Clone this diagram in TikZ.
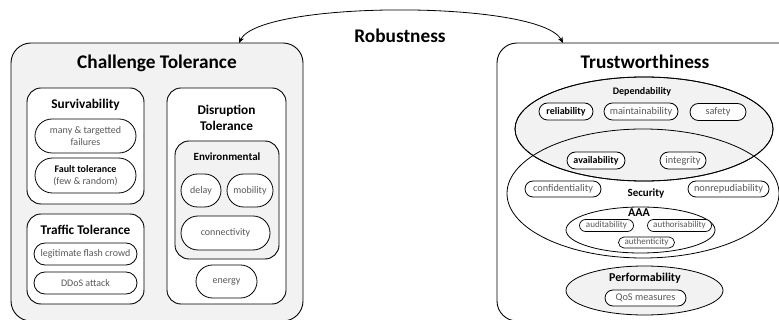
\documentclass[tikz,border=0pt]{standalone}
\usepackage{fontspec}
\setmainfont{Carlito}
\usetikzlibrary{shapes.misc,shapes.geometric,arrows.meta}
\definecolor{boxfill}{rgb}{0.949,0.949,0.949}
\definecolor{leafgray}{rgb}{0.35,0.35,0.35}
\tikzset{
  group/.style={draw, line width=0.9pt, rounded corners=14pt, fill=white, inner sep=0pt},
  pill/.style={draw, rounded rectangle, line width=0.8pt, fill=white, inner sep=1pt, text=leafgray, align=center},
  oval/.style={draw, ellipse, line width=0.8pt, inner sep=0pt},
  bigtitle/.style={font=\fontsize{19.3}{22}\selectfont\bfseries},
  subtitle/.style={font=\fontsize{13.3}{16}\selectfont\bfseries, align=center},
  smalltitle/.style={font=\fontsize{11}{13}\selectfont\bfseries},
  leaf/.style={pill, font=\fontsize{10}{11.5}\selectfont},
  tleaf/.style={pill, font=\fontsize{10.3}{12}\selectfont},
  aleaf/.style={pill, line width=0.7pt, inner sep=0.5pt, font=\fontsize{9}{10}\selectfont},
}
\begin{document}
\begin{tikzpicture}[x=1pt,y=-1pt]
\useasboundingbox (0,0) rectangle (779,320);
\clip (0,0) rectangle (779,320);

% Drawing box Challenge Tolerance
\node[group, rounded corners=20pt, fill=boxfill, minimum width=292, minimum height=278] (chal) at (157,182) {};
\node[bigtitle] (chalT) at (157,63) {Challenge Tolerance};

% Survivability
\node[group, minimum width=117, minimum height=116] (surv) at (85.5,146) {};
\node[subtitle] (survT) at (85.5,105) {Survivability};
\node[leaf, minimum width=103, minimum height=34] (many) at (85.5,136) {many \& targetted\\failures};
\node[leaf, minimum width=103, minimum height=35] (fault) at (85.5,175.5) {\textcolor{black}{\bfseries Fault tolerance}\\(few \& random)};

% Traffic Tolerance
\node[group, minimum width=117, minimum height=90] (traf) at (85.5,259) {};
\node[subtitle] (trafT) at (85.5,230) {Traffic Tolerance};
\node[leaf, minimum width=105, minimum height=22] (legit) at (85.5,254) {legitimate flash crowd};
\node[leaf, minimum width=105, minimum height=22] (ddos) at (85.5,283) {DDoS attack};

% Disruption Tolerance
\node[group, minimum width=119, minimum height=216] (disr) at (226.5,196) {};
\node[subtitle] (disrT) at (226.5,118) {Disruption\\Tolerance};
\node[group, fill=boxfill, minimum width=104, minimum height=118] (env) at (227,200) {};
\node[smalltitle] (envT) at (227,157) {Environmental};
\node[leaf, minimum width=42, minimum height=33] (delay) at (201,190.5) {delay};
\node[leaf, minimum width=48, minimum height=33] (mob) at (250,190.5) {mobility};
\node[leaf, minimum width=91, minimum height=34] (conn) at (225.5,233) {connectivity};
\node[leaf, minimum width=63, minimum height=33] (energy) at (226.5,281.5) {energy};

% Drawing box Trustworthiness
\node[group, rounded corners=20pt, minimum width=303, minimum height=278] (trust) at (648.5,182) {};
\node[bigtitle] (trustT) at (645,62) {Trustworthiness};

% Dependability and Security overlap
\node[oval, fill=boxfill, minimum width=258, minimum height=104] (dep) at (644,129) {};
\node[oval, minimum width=272, minimum height=129] (sec) at (643,193.5) {};
\node[oval, minimum width=258, minimum height=104] at (dep) {};
\node[smalltitle, font=\fontsize{10}{12}\selectfont\bfseries] (depT) at (642,92) {Dependability};
\node[tleaf, text=black, font=\fontsize{10}{12}\selectfont\bfseries, minimum width=56, minimum height=17] (rel) at (566,111.5) {reliability};
\node[tleaf, minimum width=76, minimum height=17] (maint) at (641,111.5) {maintainability};
\node[tleaf, minimum width=58, minimum height=17] (safe) at (718,112) {safety};
\node[tleaf, text=black, font=\fontsize{10}{12}\selectfont\bfseries, minimum width=60, minimum height=17] (avail) at (596,160.5) {availability};
\node[tleaf, minimum width=48, minimum height=17] (integ) at (683,160.5) {integrity};

% Security
\node[smalltitle] (secT) at (646,194) {Security};
\node[tleaf, minimum width=78, minimum height=16] (conf) at (563,189) {confidentiality};
\node[tleaf, minimum width=83, minimum height=16] (nonrep) at (728.5,189) {nonrepudiability};
\node[oval, minimum width=149, minimum height=46] (aaa) at (640.5,230) {};
\node[smalltitle, font=\fontsize{12}{14}\selectfont\bfseries] (aaaT) at (639,213) {AAA};
\node[aleaf, minimum width=55, minimum height=12] (audit) at (606.5,225.5) {auditability};
\node[aleaf, minimum width=65, minimum height=12] (autho) at (679.5,225.5) {authorisability};
\node[aleaf, minimum width=57, minimum height=11] (authe) at (646.5,242.5) {authenticity};

% Performability
\node[oval, fill=boxfill, minimum width=157, minimum height=49] (perf) at (644.5,290.5) {};
\node[smalltitle, font=\fontsize{12}{14}\selectfont\bfseries] (perfT) at (645,278) {Performability};
\node[tleaf, minimum width=83, minimum height=16] (qos) at (645.5,298) {QoS measures};

% Drawing arrow Robustness
\coordinate (robL) at (239,43);
\coordinate (robR) at (563,43);
\draw[line width=0.8pt, {Stealth[length=6pt,width=5pt]}-{Stealth[length=6pt,width=5pt]}] (robL) .. controls (260,0) and (540,0) .. (robR);
\node[bigtitle] (robT) at (400,36) {Robustness};
\end{tikzpicture}
\end{document}
